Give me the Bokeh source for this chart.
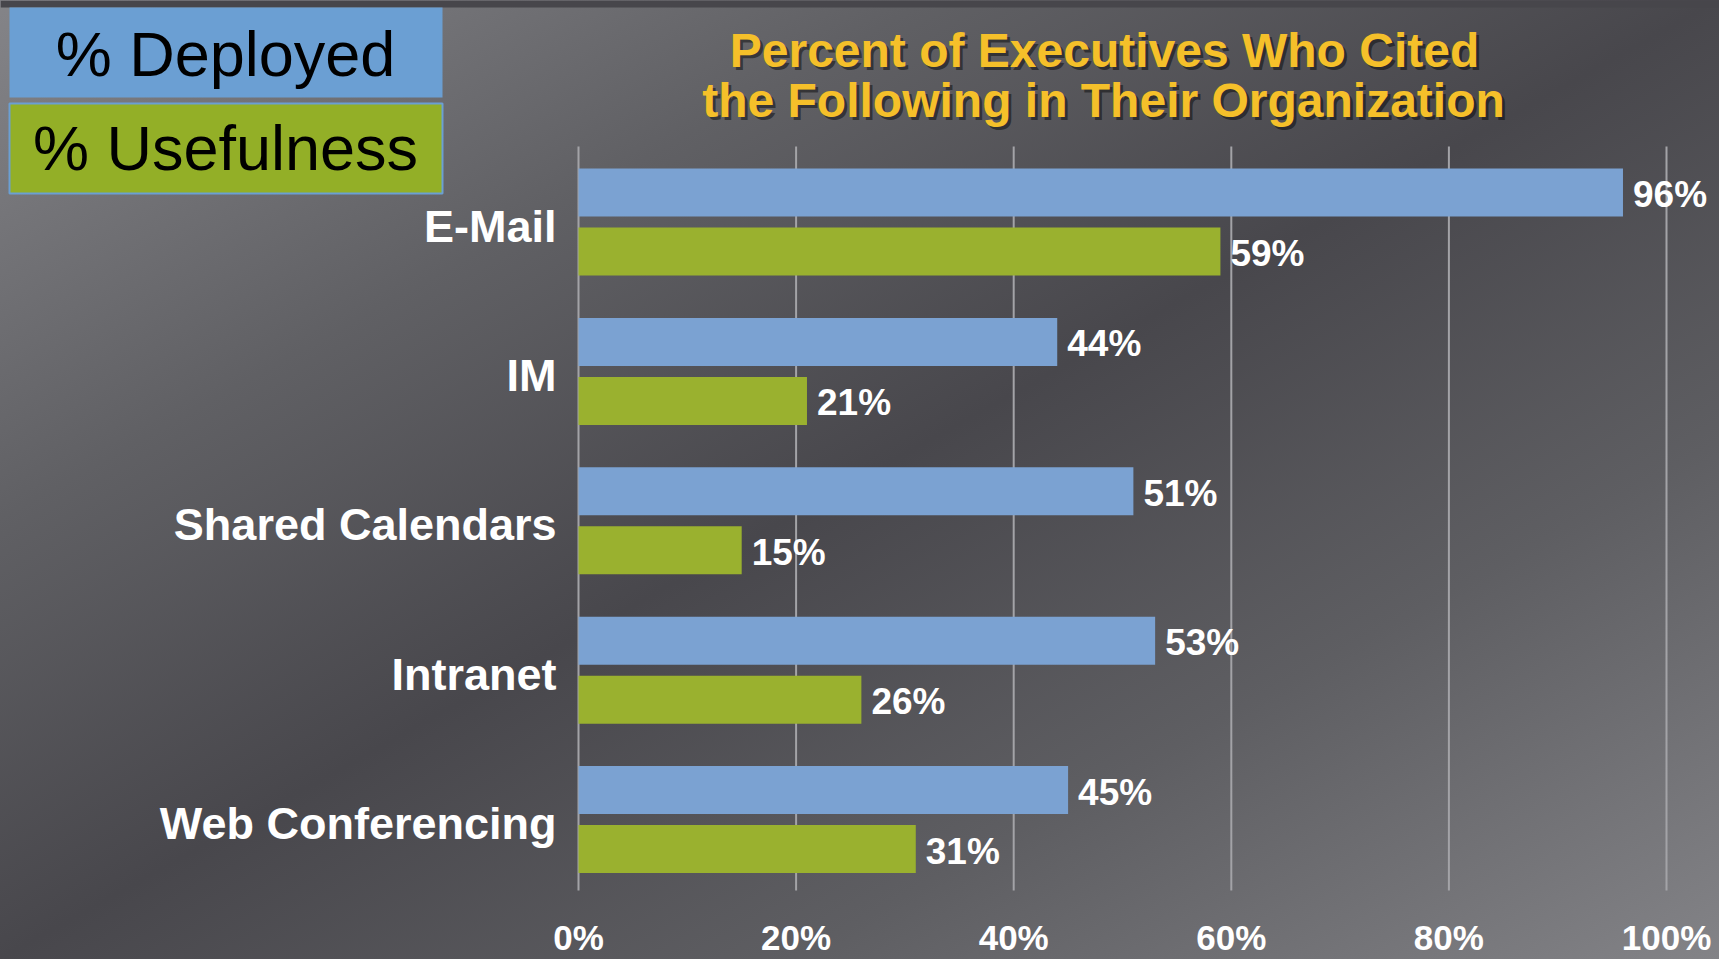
from bokeh.plotting import figure
from bokeh.models import Range1d, ColumnDataSource
from bokeh.core.properties import value
from bokeh.embed import file_html
from bokeh.resources import INLINE

# ---------------- data ----------------
categories = ["E-Mail", "IM", "Shared Calendars", "Intranet", "Web Conferencing"]
deployed = [96, 44, 51, 53, 45]
usefulness = [59, 21, 15, 26, 31]
x_ticks = [0, 20, 40, 60, 80, 100]
x_tick_labels = ["0%", "20%", "40%", "60%", "80%", "100%"]
series_names = ["% Deployed", "% Usefulness"]
title_lines = ["Percent of Executives Who Cited", "the Following in Their Organization"]

# ---------------- layout constants ----------------
W, H = 1719, 959
X0_PX, X100_PX = 578.0, 1666.0
PX_PER_X = (X100_PX - X0_PX) / 100.0
CAT0_PX, CAT_STEP_PX = 221.5, 149.4

x_start = -X0_PX / PX_PER_X
x_end = x_start + W / PX_PER_X
y_top = -CAT0_PX / CAT_STEP_PX
y_bottom = (H - CAT0_PX) / CAT_STEP_PX


def px_x(px):
    return x_start + px / PX_PER_X


def px_y(py):
    return y_top + py / CAT_STEP_PX


BLUE_BAR = "#7BA2D2"
GREEN_BAR = "#9AB12F"
BLUE_LEG = "#6B9FD3"
GREEN_LEG = "#93AF27"
GRID = "#a3a3a7"
TITLE_COLOR = "#F5C02A"
FONT = value("Liberation Sans")

BAR_H = 48.0 / CAT_STEP_PX
OFF = 29.5 / CAT_STEP_PX

p = figure(width=W, height=H,
           x_range=Range1d(x_start, x_end),
           y_range=Range1d(y_bottom, y_top),
           x_axis_location=None, y_axis_location=None,
           min_border=0, min_border_left=0, min_border_right=0,
           min_border_top=0, min_border_bottom=0,
           toolbar_location=None, output_backend="svg",
           background_fill_color=None, border_fill_color=None,
           outline_line_color=None,
           styles={"background": "linear-gradient(to bottom right, #848488 0%, #606064 27%, #48474c 50%, #5e5e62 73%, #838387 100%)"})
p.grid.visible = False

# top dark strip
p.quad(left=[x_start], right=[x_end], top=[px_y(0)], bottom=[px_y(7)],
       fill_color="#47464b", line_color=None)

# gridlines
p.segment(x0=x_ticks, x1=x_ticks,
          y0=[px_y(146)] * len(x_ticks), y1=[px_y(890)] * len(x_ticks),
          line_color=GRID, line_width=2)

idx = list(range(len(categories)))
src_d = ColumnDataSource(dict(y=[i - OFF for i in idx], v=deployed,
                              t=[f"{v}%" for v in deployed]))
src_u = ColumnDataSource(dict(y=[i + OFF for i in idx], v=usefulness,
                              t=[f"{v}%" for v in usefulness]))

p.hbar(y="y", left=0, right="v", height=BAR_H, source=src_d,
       fill_color=BLUE_BAR, line_color=None)
p.hbar(y="y", left=0, right="v", height=BAR_H, source=src_u,
       fill_color=GREEN_BAR, line_color=None)

# value labels
for src in (src_d, src_u):
    p.text(x="v", y="y", text="t", source=src, x_offset=10, y_offset=2,
           text_font=FONT, text_font_style="bold", text_font_size="37px",
           text_color="white", text_align="left", text_baseline="middle")

# category labels
p.text(x=[px_x(556)] * len(categories), y=idx, text=categories, y_offset=4,
       text_font=FONT, text_font_style="bold", text_font_size="45px",
       text_color="white", text_align="right", text_baseline="middle")

# x tick labels
p.text(x=x_ticks, y=[px_y(937)] * len(x_ticks), text=x_tick_labels,
       text_font=FONT, text_font_style="bold", text_font_size="35px",
       text_color="white", text_align="center", text_baseline="middle")

# title with shadow
tx = [px_x(1104), px_x(1103)]
ty = [px_y(50), px_y(100)]
p.text(x=tx, y=ty, text=title_lines, x_offset=3, y_offset=3,
       text_font=FONT, text_font_style="bold", text_font_size="48px",
       text_color="black", text_alpha=0.45, text_align="center",
       text_baseline="middle")
p.text(x=tx, y=ty, text=title_lines,
       text_font=FONT, text_font_style="bold", text_font_size="48px",
       text_color=TITLE_COLOR, text_align="center", text_baseline="middle")

# legend boxes
p.quad(left=[px_x(9)], right=[px_x(442)], top=[px_y(7)], bottom=[px_y(97)],
       fill_color=BLUE_LEG, line_color=None)
p.quad(left=[px_x(9)], right=[px_x(442)], top=[px_y(103)], bottom=[px_y(193)],
       fill_color=GREEN_LEG, line_color=BLUE_LEG, line_width=2)
p.text(x=[px_x(225), px_x(225)], y=[px_y(53), px_y(147)], text=series_names,
       text_font=FONT, text_font_size="63px", text_color="black",
       text_align="center", text_baseline="middle")

open("out.html", "w").write(file_html(p, INLINE))
